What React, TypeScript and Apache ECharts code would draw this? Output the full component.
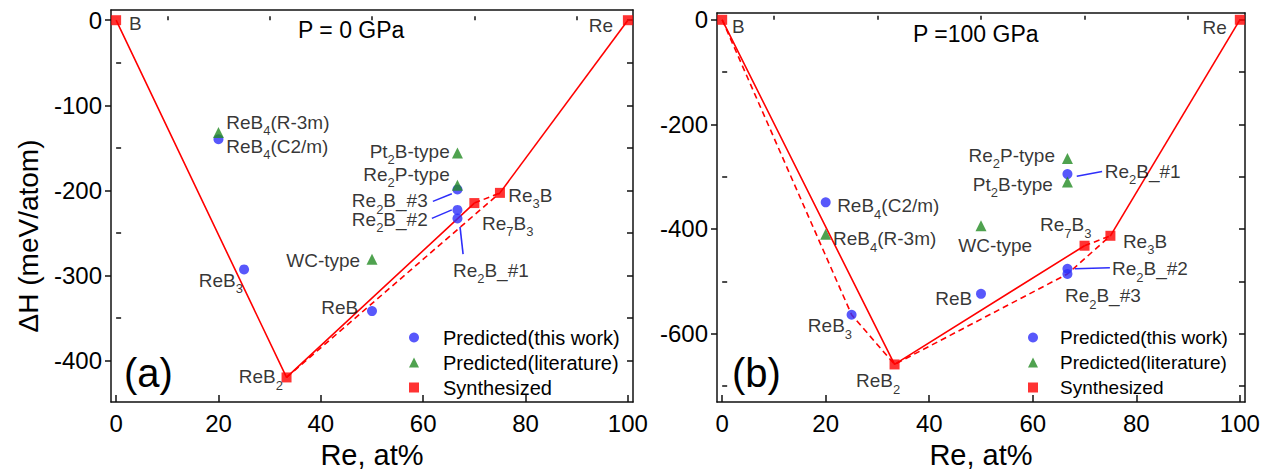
import { useEffect, useRef } from "react";
import * as echarts from "echarts";

// ---------- data ----------
const xMajor = [0, 20, 40, 60, 80, 100];
const xMinor = [10, 30, 50, 70, 90];

const yMajorA = [-400, -300, -200, -100, 0];
const yMinorA = [-350, -250, -150, -50];
const yMajorB = [-600, -400, -200, 0];
const yMinorB = [-700, -500, -300, -100];

// Panel (a): P = 0 GPa
const thisWorkA = [[20, -140], [25, -293], [50, -342], [66.7, -199], [66.7, -223], [66.7, -233]];
const literatureA = [[20, -132], [50, -281], [66.7, -156], [66.7, -194]];
const synthesizedA = [[0, 0], [33.3, -420], [70, -215], [75, -203], [100, 0]];
const solidA = [
  [[0, 0], [33.3, -420], [70, -215]],
  [[75, -203], [100, 0]],
];
const dashedA = [
  [[33.3, -420], [75, -203]],
  [[70, -215], [75, -203]],
];
const arrowsA = [
  [[61.9, -213], [65.6, -204]],
  [[61.7, -233], [65.6, -223]],
  [[67.8, -275], [67.2, -243]],
];
const labelsA = [
  { t: "B", x: 2.5, y: -3.5, side: "right" },
  { t: "Re", x: 97.1, y: -5.8, side: "left" },
  { t: "ReB{s|4}(R-3m)", x: 21.5, y: -120, side: "right" },
  { t: "ReB{s|4}(C2/m)", x: 21.5, y: -148, side: "right" },
  { t: "Pt{s|2}B-type", x: 65.2, y: -154, side: "left" },
  { t: "Re{s|2}P-type", x: 65.2, y: -181, side: "left" },
  { t: "Re{s|2}B_#3", x: 60.9, y: -212, side: "left" },
  { t: "Re{s|2}B_#2", x: 60.9, y: -234, side: "left" },
  { t: "Re{s|7}B{s|3}", x: 71.5, y: -239, side: "right" },
  { t: "Re{s|3}B", x: 76.6, y: -206, side: "right" },
  { t: "Re{s|2}B_#1", x: 65.8, y: -294, side: "right" },
  { t: "WC-type", x: 47.7, y: -282, side: "left" },
  { t: "ReB", x: 47.3, y: -338, side: "left" },
  { t: "ReB{s|3}", x: 24.8, y: -306, side: "left" },
  { t: "ReB{s|2}", x: 32.6, y: -419, side: "left" },
];

// Panel (b): P = 100 GPa
const thisWorkB = [[20, -349], [25, -564], [50, -524], [66.7, -295], [66.7, -476], [66.7, -486]];
const literatureB = [[20, -410], [50, -394], [66.7, -265], [66.7, -310]];
const synthesizedB = [[0, 0], [33.3, -659], [70, -432], [75, -413], [100, 0]];
const solidB = [
  [[0, 0], [33.3, -659], [70, -432]],
  [[75, -413], [100, 0]],
];
const dashedB = [
  [[0, 0], [25, -564], [33.3, -659], [66.7, -486], [75, -413]],
  [[70, -432], [75, -413]],
];
const arrowsB = [
  [[73.4, -290], [68.5, -299]],
  [[74.9, -474], [68.1, -476]],
];
const labelsB = [
  { t: "B", x: 1.9, y: -13, side: "right" },
  { t: "Re", x: 97.5, y: -15, side: "left" },
  { t: "ReB{s|4}(C2/m)", x: 22.2, y: -356, side: "right" },
  { t: "ReB{s|4}(R-3m)", x: 21.4, y: -419, side: "right" },
  { t: "WC-type", x: 45.6, y: -432, side: "right" },
  { t: "Re{s|7}B{s|3}", x: 61.4, y: -392, side: "right" },
  { t: "Re{s|3}B", x: 77.4, y: -423, side: "right" },
  { t: "Re{s|2}B_#2", x: 75.3, y: -476, side: "right" },
  { t: "Re{s|2}B_#3", x: 66.2, y: -528, side: "right" },
  { t: "ReB", x: 48.3, y: -533, side: "left" },
  { t: "ReB{s|3}", x: 25.1, y: -585, side: "left" },
  { t: "ReB{s|2}", x: 34.4, y: -690, side: "left" },
  { t: "Re{s|2}P-type", x: 64.3, y: -259, side: "left" },
  { t: "Pt{s|2}B-type", x: 63.9, y: -314, side: "left" },
  { t: "Re{s|2}B_#1", x: 73.9, y: -290, side: "right" },
];

const NAME_THIS = "Predicted(this work)";
const NAME_LIT = "Predicted(literature)";
const NAME_SYN = "Synthesized";

// ---------- styles ----------
const FONT = "'Liberation Sans', Arial, sans-serif";
const BLUE = "#2e2efa";
const GREEN = "#238b23";
const RED = "#ff0000";
const AXIS = "#111111";

function buildPanel(p: number, cfg: any) {
  const xAxes = [
    {
      type: "value", gridIndex: p, min: -1, max: 101, position: "bottom",
      axisLine: { show: true, onZero: false, lineStyle: { color: AXIS, width: 1.5 } },
      axisTick: { show: true, inside: true, length: 7, customValues: xMajor, lineStyle: { color: AXIS, width: 1.5 } },
      axisLabel: { show: true, customValues: xMajor, margin: 9, color: "#000", fontSize: 24, fontFamily: FONT },
      splitLine: { show: false },
      name: "Re, at%", nameLocation: "middle", nameGap: 34,
      nameTextStyle: { fontSize: 29, fontFamily: FONT, color: "#000" },
    },
    {
      type: "value", gridIndex: p, min: -1, max: 101, position: "bottom",
      axisLine: { show: false },
      axisTick: { show: true, inside: true, length: 4, customValues: xMinor, lineStyle: { color: AXIS, width: 1.5 } },
      axisLabel: { show: false },
      splitLine: { show: false },
    },
    {
      type: "value", gridIndex: p, min: -1, max: 101, position: "top",
      axisLine: { show: true, onZero: false, lineStyle: { color: AXIS, width: 1.5 } },
      axisTick: { show: false },
      axisLabel: { show: false },
      splitLine: { show: false },
    },
  ];
  const yAxes = [
    {
      type: "value", gridIndex: p, min: cfg.ymin, max: cfg.ymax, position: "left",
      axisLine: { show: true, onZero: false, lineStyle: { color: AXIS, width: 1.5 } },
      axisTick: { show: true, inside: false, length: 6, customValues: cfg.yMajor, lineStyle: { color: AXIS, width: 1.5 } },
      axisLabel: { show: true, customValues: cfg.yMajorLabels, margin: 9, color: "#000", fontSize: 24, fontFamily: FONT },
      splitLine: { show: false },
    },
    {
      type: "value", gridIndex: p, min: cfg.ymin, max: cfg.ymax, position: "left",
      axisLine: { show: false },
      axisTick: { show: true, inside: true, length: 5, customValues: cfg.yMinor, lineStyle: { color: AXIS, width: 1.5 } },
      axisLabel: { show: false },
      splitLine: { show: false },
    },
    {
      type: "value", gridIndex: p, min: cfg.ymin, max: cfg.ymax, position: "right",
      axisLine: { show: true, onZero: false, lineStyle: { color: AXIS, width: 1.5 } },
      axisTick: { show: true, inside: true, length: 6, customValues: [...cfg.yMajor, ...cfg.yMinor], lineStyle: { color: AXIS, width: 1.5 } },
      axisLabel: { show: false },
      splitLine: { show: false },
    },
  ];
  const xi = p * 3;
  const yi = p * 3;
  const series: any[] = [];
  cfg.solid.forEach((seg: number[][]) => {
    series.push({
      type: "line", xAxisIndex: xi, yAxisIndex: yi, data: seg, showSymbol: false, symbol: "none",
      silent: true, z: 2, lineStyle: { color: RED, width: 1.6, type: "solid" },
    });
  });
  cfg.dashed.forEach((seg: number[][]) => {
    series.push({
      type: "line", xAxisIndex: xi, yAxisIndex: yi, data: seg, showSymbol: false, symbol: "none",
      silent: true, z: 2, lineStyle: { color: RED, width: 1.6, type: [6, 4] },
    });
  });
  series.push({
    name: NAME_LIT, type: "scatter", xAxisIndex: xi, yAxisIndex: yi, data: cfg.lit,
    symbol: "triangle", symbolSize: 11, itemStyle: { color: GREEN }, z: 4, silent: true,
  });
  series.push({
    name: NAME_THIS, type: "scatter", xAxisIndex: xi, yAxisIndex: yi, data: cfg.thisWork,
    symbol: "circle", symbolSize: 10, itemStyle: { color: BLUE }, z: 3, silent: true,
    markLine: {
      silent: true, animation: false,
      symbol: ["none", "arrow"], symbolSize: [0, 11],
      label: { show: false },
      lineStyle: { color: BLUE, width: 1.6, type: "solid" },
      data: cfg.arrows.map((a: number[][]) => [{ coord: a[0] }, { coord: a[1] }]),
    },
  });
  series.push({
    name: NAME_SYN, type: "scatter", xAxisIndex: xi, yAxisIndex: yi, data: cfg.syn,
    symbol: "rect", symbolSize: 10, itemStyle: { color: RED }, z: 5, silent: true,
  });
  series.push({
    type: "scatter", xAxisIndex: xi, yAxisIndex: yi, silent: true, z: 6,
    symbolSize: 0.1, itemStyle: { color: "rgba(0,0,0,0)" },
    label: {
      show: true, distance: 0, color: "#000", fontSize: 19, fontFamily: FONT, lineHeight: 20,
      rich: {
        s: { fontSize: 13, fontFamily: FONT, color: "#000", lineHeight: 30, verticalAlign: "bottom" },
      },
    },
    data: cfg.labels.map((l: any) => ({
      value: [l.x, l.y],
      label: { position: l.side, formatter: l.t },
    })),
  });
  return { xAxes, yAxes, series };
}

export default function App() {
  const ref = useRef<HTMLDivElement>(null);
  useEffect(() => {
    if (!ref.current) return;
    const chart = echarts.init(ref.current, undefined, { renderer: "svg" });
    const a = buildPanel(0, {
      ymin: -449, ymax: 12, yMajor: yMajorA, yMajorLabels: yMajorA, yMinor: yMinorA,
      solid: solidA, dashed: dashedA, lit: literatureA, thisWork: thisWorkA, syn: synthesizedA,
      arrows: arrowsA, labels: labelsA,
    });
    const b = buildPanel(1, {
      ymin: -731, ymax: 13, yMajor: [...yMajorB], yMajorLabels: yMajorB, yMinor: yMinorB,
      solid: solidB, dashed: dashedB, lit: literatureB, thisWork: thisWorkB, syn: synthesizedB,
      arrows: arrowsB, labels: labelsB,
    });
    const legendBase = {
      orient: "vertical", padding: 0, itemWidth: 10, itemHeight: 10, itemGap: 4, selectedMode: false,
      data: [
        { name: NAME_THIS, icon: "circle" },
        { name: NAME_LIT, icon: "triangle" },
        { name: NAME_SYN, icon: "rect" },
      ],
    };
    chart.setOption({
      animation: false,
      backgroundColor: "#ffffff",
      textStyle: { fontFamily: FONT },
      grid: [
        { left: 111, top: 10, width: 522, height: 395, containLabel: false },
        { left: 717, top: 13, width: 528, height: 391, containLabel: false },
      ],
      xAxis: [...a.xAxes, ...b.xAxes],
      yAxis: [...a.yAxes, ...b.yAxes],
      legend: [
        { ...legendBase, left: 409, top: 327,
          textStyle: { fontSize: 20, lineHeight: 21, fontFamily: FONT, color: "#000", padding: [0, 0, 0, 19] } },
        { ...legendBase, left: 1028, top: 327,
          textStyle: { fontSize: 19, lineHeight: 21, fontFamily: FONT, color: "#000", padding: [0, 0, 0, 17] } },
      ],
      graphic: [
        { type: "text", x: 298, y: 30, silent: true,
          style: { text: "P = 0 GPa", fontSize: 23, fontFamily: FONT, fill: "#000", align: "left", verticalAlign: "middle" } },
        { type: "text", x: 124, y: 373, silent: true,
          style: { text: "(a)", fontSize: 40, fontFamily: FONT, fill: "#000", align: "left", verticalAlign: "middle" } },
        { type: "text", x: 913, y: 34, silent: true,
          style: { text: "P =100 GPa", fontSize: 23, fontFamily: FONT, fill: "#000", align: "left", verticalAlign: "middle" } },
        { type: "text", x: 732, y: 373, silent: true,
          style: { text: "(b)", fontSize: 40, fontFamily: FONT, fill: "#000", align: "left", verticalAlign: "middle" } },
        { type: "text", x: 28, y: 236, rotation: Math.PI / 2, silent: true,
          style: { text: "ΔH (meV/atom)", fontSize: 28, fontFamily: FONT, fill: "#000", align: "center", verticalAlign: "middle" } },
      ],
      series: [...a.series, ...b.series],
    });
    return () => chart.dispose();
  }, []);
  return (
    <div
      ref={ref}
      style={{ position: "fixed", left: 0, top: 0, width: 1275, height: 474, background: "#fff" }}
    />
  );
}
